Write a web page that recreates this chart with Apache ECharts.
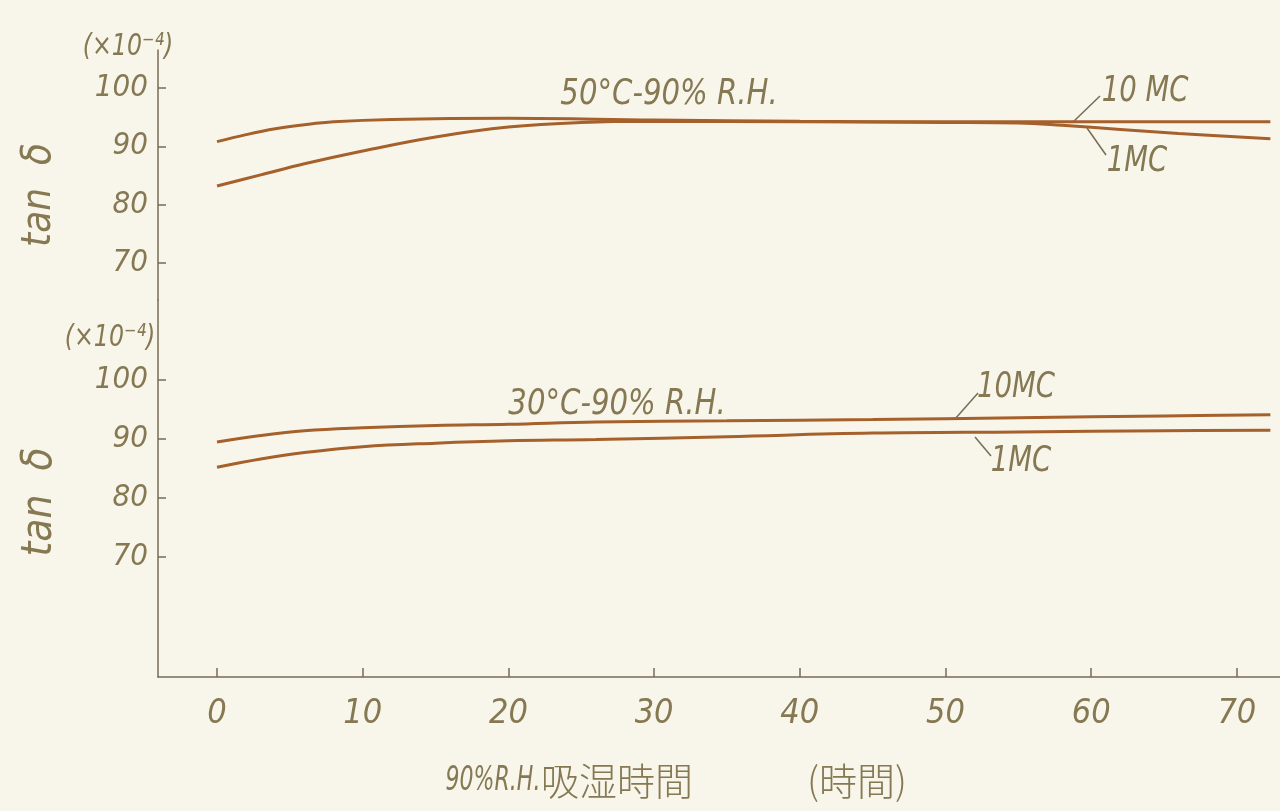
<!DOCTYPE html>
<html>
<head>
<meta charset="utf-8">
<script src="https://cdn.jsdelivr.net/npm/echarts@6/dist/echarts.min.js"></script>
<style>
html,body{margin:0;padding:0;background:#f8f6ea;}
#chart{width:1280px;height:811px;}
</style>
</head>
<body>
<div id="chart"></div>
<script>
// ---- data (hours of absorption at 90% R.H., tan δ ×10^-4) ----
const xTicks = [0, 10, 20, 30, 40, 50, 60, 70];
const yTicks = [70, 80, 90, 100];

const hot10Hours = [0, 2, 4, 6, 8, 12, 20, 30, 40, 50, 60, 72.3];
const hot10Vals  = [90.8, 92.0, 93.0, 93.7, 94.2, 94.6, 94.8, 94.5, 94.3, 94.2, 94.2, 94.2];

const hot1Hours = [0, 3, 6, 10, 15, 20, 25, 30, 40, 50, 55, 58, 62, 66, 72.3];
const hot1Vals  = [83.2, 85.1, 87.0, 89.2, 91.6, 93.3, 94.1, 94.3, 94.2, 94.1, 94.0, 93.6, 92.9, 92.2, 91.3];

const warm10Hours = [0, 3, 6, 10, 15, 20, 26, 35, 45, 55, 65, 72.3];
const warm10Vals  = [89.5, 90.6, 91.4, 91.9, 92.3, 92.5, 92.9, 93.1, 93.3, 93.6, 93.9, 94.1];

const warm1Hours = [0, 3, 6, 10, 15, 20, 26, 35, 45, 55, 65, 72.3];
const warm1Vals  = [85.2, 86.6, 87.7, 88.7, 89.3, 89.7, 89.9, 90.4, 91.0, 91.2, 91.4, 91.5];

function pairs(h, v){ return h.map((t,i)=>[t, v[i]]); }

const LINE = '#a5602c';
const AXIS = '#776c55';
const TXT  = '#857852';
const NUMFONT = '"DejaVu Sans Condensed","Liberation Sans Narrow","Noto Sans",sans-serif';

const chart = echarts.init(document.getElementById('chart'), null, {renderer:'canvas'});

function yAxisCfg(idx, min, max){
  return {
    type:'value', gridIndex:idx, min:min, max:max,
    axisLine:{show:true, onZero:false, lineStyle:{color:AXIS, width:1.5}},
    axisTick:{show:true, inside:true, length:8, customValues:yTicks, lineStyle:{color:AXIS, width:1.5}},
    axisLabel:{show:true, customValues:yTicks, margin:10, color:TXT, fontFamily:NUMFONT,
               fontStyle:'italic', fontSize:31},
    splitLine:{show:false}
  };
}

function txt(x, y, s, size, sx, extra){
  return Object.assign({type:'text', x:x, y:y, scaleX:sx||1,
    style:{text:s, fill:TXT, font:'italic '+size+'px '+NUMFONT, align:'center', verticalAlign:'middle'}}, extra||{});
}

const option = {
  backgroundColor:'#f8f6ea',
  animation:false,
  grid:[
    {left:158, right:0, top:50, height:250},
    {left:158, right:0, top:300, height:377}
  ],
  xAxis:[
    {type:'value', gridIndex:0, min:-4.05, max:72.96, show:false, splitLine:{show:false}},
    {type:'value', gridIndex:1, min:-4.05, max:72.96,
     axisLine:{show:true, onZero:false, lineStyle:{color:AXIS, width:1.5}},
     axisTick:{show:true, inside:true, length:9, customValues:xTicks, lineStyle:{color:AXIS, width:1.5}},
     axisLabel:{show:true, customValues:xTicks, margin:20, color:TXT, fontFamily:NUMFONT,
                fontStyle:'italic', fontSize:34},
     splitLine:{show:false}}
  ],
  yAxis:[ yAxisCfg(0, 63.66, 106.51), yAxisCfg(1, 49.66, 113.56) ],
  series:[
    {type:'line', name:'50°C 10MC', xAxisIndex:0, yAxisIndex:0, data:pairs(hot10Hours, hot10Vals),
     smooth:0.4, showSymbol:false, lineStyle:{color:LINE, width:3}},
    {type:'line', name:'50°C 1MC', xAxisIndex:0, yAxisIndex:0, data:pairs(hot1Hours, hot1Vals),
     smooth:0.4, showSymbol:false, lineStyle:{color:LINE, width:3}},
    {type:'line', name:'30°C 10MC', xAxisIndex:1, yAxisIndex:1, data:pairs(warm10Hours, warm10Vals),
     smooth:0.4, showSymbol:false, lineStyle:{color:LINE, width:3}},
    {type:'line', name:'30°C 1MC', xAxisIndex:1, yAxisIndex:1, data:pairs(warm1Hours, warm1Vals),
     smooth:0.4, showSymbol:false, lineStyle:{color:LINE, width:3}}
  ],
  graphic:[
    // axis titles
    txt(40, 195, 'tan  δ', 40, 1, {rotation:Math.PI/2}),
    txt(40, 502, 'tan  δ', 42, 1, {rotation:Math.PI/2}),
    txt(128, 47, '(×10⁻⁴)', 31, 0.85),
    txt(110, 338, '(×10⁻⁴)', 31, 0.85),
    // panel labels
    txt(669, 95, '50°C-90% R.H.', 36, 0.9),
    txt(617, 405, '30°C-90% R.H.', 36, 0.9),
    // curve labels, top
    txt(1145, 92, '10 MC', 36, 0.85),
    {type:'line', shape:{x1:1073, y1:122, x2:1100, y2:96}, style:{stroke:AXIS, lineWidth:1.5}},
    txt(1137, 162, '1MC', 36, 0.85),
    {type:'line', shape:{x1:1087, y1:128, x2:1106, y2:155}, style:{stroke:AXIS, lineWidth:1.5}},
    // curve labels, bottom
    txt(1016, 388, '10MC', 36, 0.85),
    {type:'line', shape:{x1:955, y1:419, x2:978, y2:393}, style:{stroke:AXIS, lineWidth:1.5}},
    txt(1021, 462, '1MC', 36, 0.85),
    {type:'line', shape:{x1:975, y1:437, x2:991, y2:456}, style:{stroke:AXIS, lineWidth:1.5}},
    // x axis title
    txt(493, 781, '90%R.H.', 34, 0.72),
    {type:'text', x:617, y:781, style:{text:'吸湿時間', fill:TXT, font:'300 38px "Noto Sans CJK JP",sans-serif',
      align:'center', verticalAlign:'middle'}},
    {type:'text', x:857, y:781, style:{text:'(時間)', fill:TXT, font:'300 38px "Noto Sans CJK JP",sans-serif',
      align:'center', verticalAlign:'middle'}}
  ]
};
chart.setOption(option);
</script>
</body>
</html>
